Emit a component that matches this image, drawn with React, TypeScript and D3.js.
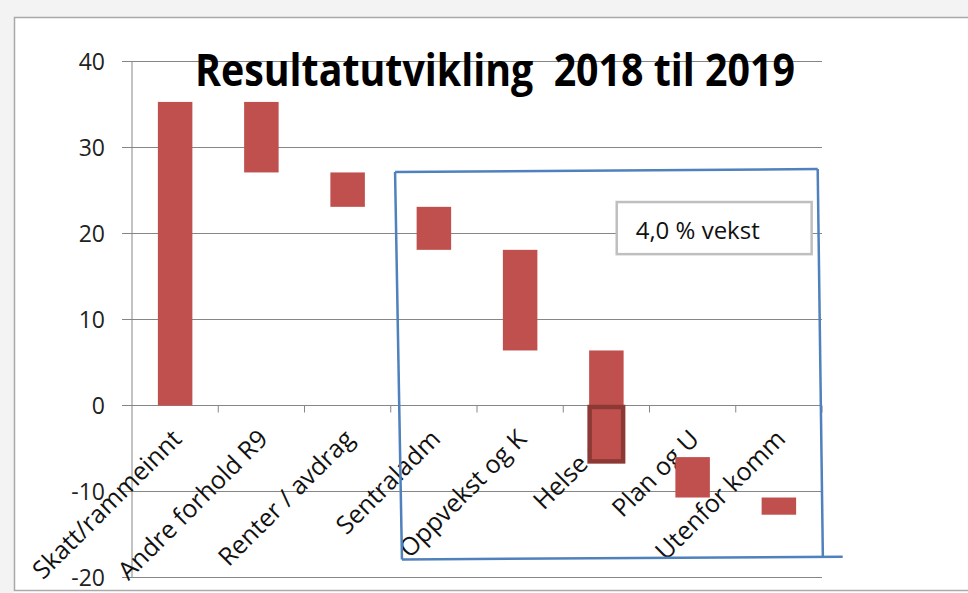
import * as d3 from 'd3'

// waterfall steps, values
const categories = [
  'Skatt/rammeinnt',
  'Andre forhold R9',
  'Renter / avdrag',
  'Sentraladm',
  'Oppvekst og K',
  'Helse og',
  'Plan og U',
  'Utenfor komm',
]
const barStart = [0, 35.3, 27.1, 23.1, 18.1, 6.4, -6.0, -10.7]
const barEnd = [35.3, 27.1, 23.1, 18.1, 6.4, -6.5, -10.7, -12.7]
const yTicks = [-20, -10, 0, 10, 20, 30, 40]

// highlighted part of "Helse og" (below zero)
const highlightIndex = 5
const highlightRange = [0, -6.5]

// hand drawn blue frame, x in category units (0..8), y in chart values
const blueLines = [
  [[3.05, 27.15], [7.95, 27.5]],
  [[7.95, 27.5], [8.01, -17.6]],
  [[3.05, 27.15], [3.13, -17.9]],
  [[3.13, -17.9], [8.24, -17.6]],
]
const noteText = '4,0 % vekst'
const noteBox = { x0: 5.62, x1: 7.88, y0: 23.66, y1: 17.6 }

const W = 968
const H = 593
const left = 132
const right = 822
const top = 61.5
const bottom = 577.5

const font = '"Open Sans", sans-serif'

export default function App() {
  const y = d3.scaleLinear().domain([-20, 40]).range([bottom, top])
  const x = d3
    .scaleBand<string>()
    .domain(categories)
    .range([left, right])
    .paddingInner(0.6)
    .paddingOuter(0.3)
  const xc = d3.scaleLinear().domain([0, categories.length]).range([left, right])
  const step = x.step()
  const hx = x(categories[highlightIndex])!

  return (
    <svg
      width={W}
      height={H}
      style={{ position: 'absolute', left: 0, top: 0, background: '#fff' }}
    >
      {/* window frame */}
      <rect x={0} y={0} width={W} height={17} fill="#f3f3f3" />
      <rect x={0} y={0} width={14} height={H} fill="#f3f3f3" />
      <rect x={14.5} y={17.5} width={W} height={573} fill="#fff" stroke="#a9a9a9" strokeWidth={1.5} />

      {/* gridlines */}
      {yTicks.map((t) => (
        <g key={t}>
          <line x1={left - 10} x2={right} y1={y(t)} y2={y(t)} stroke="#868686" strokeWidth={1} />
          <text
            x={105}
            y={y(t)}
            dy="0.36em"
            textAnchor="end"
            fontFamily={font}
            fontSize={23}
            fill="#222"
          >
            {t}
          </text>
        </g>
      ))}
      <line x1={left} x2={left} y1={top} y2={bottom} stroke="#868686" strokeWidth={1} />

      {/* category ticks on zero line */}
      {categories.map((c, i) => (
        <line
          key={c}
          x1={xc(i + 1)}
          x2={xc(i + 1)}
          y1={y(0)}
          y2={y(0) + 7}
          stroke="#868686"
          strokeWidth={1}
        />
      ))}

      {/* title */}
      <text
        x={195}
        y={86}
        fontFamily={font}
        fontWeight={700}
        fontSize={45}
        textLength={600}
        lengthAdjust="spacingAndGlyphs"
        fill="#000"
        style={{ whiteSpace: 'pre' }}
      >
        {'Resultatutvikling  2018 til 2019'}
      </text>

      {/* category labels (drawn below the bars) */}
      {categories.map((c) => {
        const cx = x(c)! + x.bandwidth() / 2
        return (
          <text
            key={c}
            transform={`translate(${cx + 8},${y(0) + 35}) rotate(-45)`}
            textAnchor="end"
            fontFamily={font}
            fontSize={25}
            fill="#111"
          >
            {c}
          </text>
        )
      })}

      {/* bars */}
      {categories.map((c, i) => (
        <rect
          key={c}
          x={x(c)}
          width={x.bandwidth()}
          y={y(Math.max(barStart[i], barEnd[i]))}
          height={Math.abs(y(barStart[i]) - y(barEnd[i]))}
          fill="#c0504d"
        />
      ))}
      <rect
        x={hx + 0.5}
        width={x.bandwidth() - 1}
        y={y(highlightRange[0]) + 1.5}
        height={y(highlightRange[1]) - y(highlightRange[0]) - 1.5}
        fill="none"
        stroke="#8c3835"
        strokeWidth={4.5}
      />

      {/* note */}
      <rect
        x={xc(noteBox.x0)}
        y={y(noteBox.y0)}
        width={xc(noteBox.x1) - xc(noteBox.x0)}
        height={y(noteBox.y1) - y(noteBox.y0)}
        fill="#fff"
        stroke="#bfbfbf"
        strokeWidth={2.5}
      />
      <text
        x={xc(noteBox.x0) + step * 0.22}
        y={y(noteBox.y0) + 37}
        fontFamily={font}
        fontSize={24}
        fill="#111"
      >
        {noteText}
      </text>

      {/* blue hand drawn frame */}
      {blueLines.map((l, i) => (
        <line
          key={i}
          x1={xc(l[0][0])}
          y1={y(l[0][1])}
          x2={xc(l[1][0])}
          y2={y(l[1][1])}
          stroke="#4f81bd"
          strokeWidth={2.5}
        />
      ))}
    </svg>
  )
}
